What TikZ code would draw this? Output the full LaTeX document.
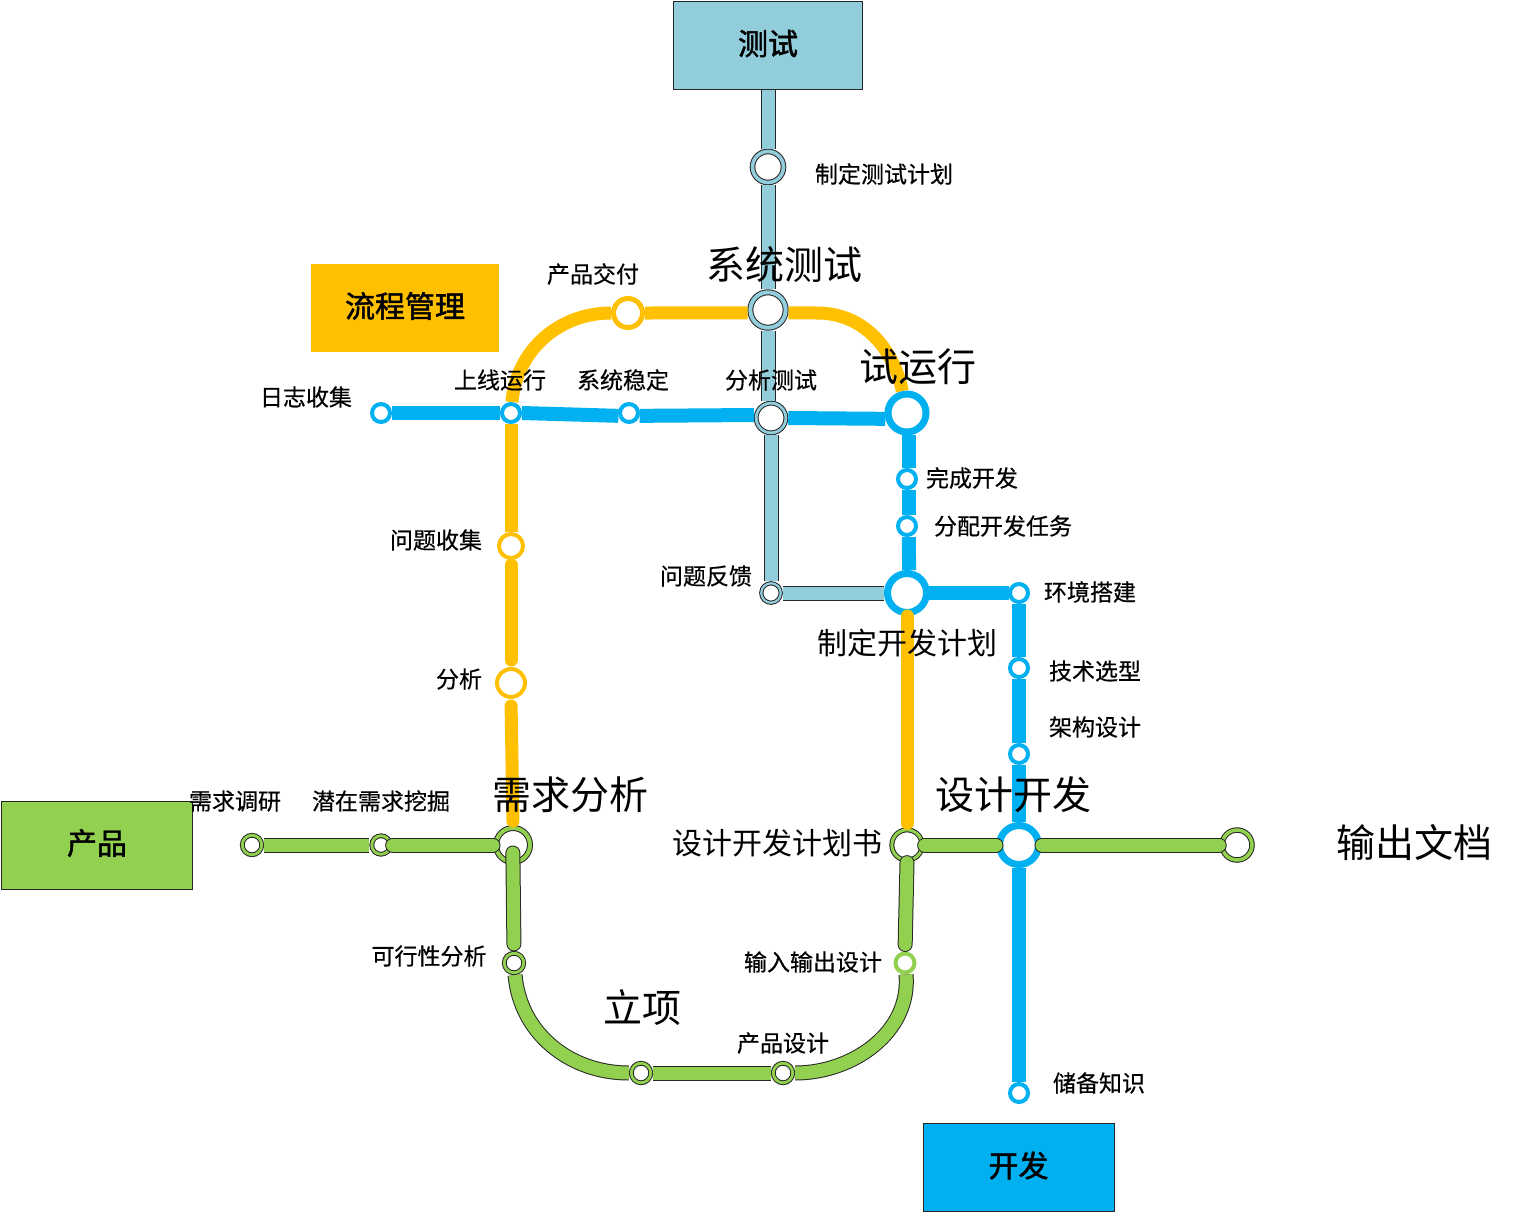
\documentclass[tikz,border=0pt]{standalone}
\usepackage{fontspec}
\setmainfont{Noto Sans CJK SC}
\newfontfamily\boxfont{Noto Sans CJK SC}[FakeBold=1.6]
\newfontfamily\labelfont{Noto Sans CJK SC}[FakeBold=0.5]
\usepackage{tikz}
\usetikzlibrary{positioning}

\definecolor{testblue}{HTML}{92CDDC}
\definecolor{flowyellow}{HTML}{FFC000}
\definecolor{devblue}{HTML}{00B0F0}
\definecolor{prodgreen}{HTML}{92D050}

\tikzset{
  smalltext/.style={font=\labelfont\fontsize{23}{27}\selectfont,inner sep=0pt},
  midtext/.style={font=\fontsize{30}{34}\selectfont,inner sep=0pt},
  bigtext/.style={font=\fontsize{39}{44}\selectfont,inner sep=0pt},
  linebox/.style={font=\boxfont\fontsize{30}{34}\selectfont,minimum width=#1,minimum height=88pt,inner sep=0pt,text height=25pt,text depth=6.2pt},
  plainstop/.style n args={3}{circle,inner sep=0pt,fill=white,draw=#1,minimum size=#2,line width=#3,outer sep=#3/2},
  darkstop/.style n args={3}{circle,inner sep=0pt,fill=white,draw=black!85,line width=1pt,double=#1,double distance=#3-2pt,minimum size=#2,outer sep=#3/2},
  plainrail/.style={draw=#1,line width=14pt},
  yellowrail/.style={draw=flowyellow,line width=13pt},
  darkrail/.style={draw=black!85,line width=1pt,double=#1,double distance=13pt},
  roundend/.style={line cap=round},
}

\begin{document}
\begin{tikzpicture}[x=1pt,y=-1pt]
  \useasboundingbox (0,0) rectangle (1515,1213);

  % line boxes
  \node[linebox=189pt,fill=testblue,draw=black!85,line width=.8pt] (testbox) at (768,45.5) {测试};
  \node[linebox=188pt,fill=flowyellow] (flowbox) at (405,308) {流程管理};
  \node[linebox=191pt,fill=prodgreen,draw=black!85,line width=.8pt] (prodbox) at (97,845) {产品};
  \node[linebox=191pt,fill=devblue,draw=black!85,line width=.8pt] (devbox) at (1018.5,1167.5) {开发};

  % test stops
  \node[darkstop={testblue}{31pt}{5.6pt}] (testplan) at (768,167) {};
  \node[darkstop={testblue}{35.4pt}{6pt}] (systest) at (768,310) {};
  \node[darkstop={testblue}{29.7pt}{4.8pt}] (analysetest) at (771,418) {};
  \node[darkstop={testblue}{19.5pt}{4.2pt}] (feedback) at (771,593) {};

  % flow stops
  \node[plainstop={flowyellow}{29pt}{5pt}] (delivery) at (628,313) {};
  \node[plainstop={flowyellow}{24pt}{4pt}] (collect) at (511,546) {};
  \node[plainstop={flowyellow}{28pt}{4pt}] (analyse) at (511,683) {};

  % dev stops
  \node[plainstop={devblue}{18pt}{4pt}] (logs) at (381,413) {};
  \node[plainstop={devblue}{18pt}{4pt}] (golive) at (511,413) {};
  \node[plainstop={devblue}{18pt}{4pt}] (stable) at (629,413) {};
  \node[plainstop={devblue}{38pt}{7pt}] (trial) at (907,413) {};
  \node[plainstop={devblue}{18pt}{4pt}] (devdone) at (907,479) {};
  \node[plainstop={devblue}{18pt}{4pt}] (devtask) at (907,526) {};
  \node[plainstop={devblue}{39pt}{7pt}] (devplan) at (907,593) {};
  \node[plainstop={devblue}{18pt}{4pt}] (envsetup) at (1019,593) {};
  \node[plainstop={devblue}{18pt}{4pt}] (techsel) at (1019,668) {};
  \node[plainstop={devblue}{18pt}{4pt}] (archdes) at (1019,754) {};
  \node[plainstop={devblue}{39pt}{7pt}] (devhub) at (1019,845) {};
  \node[plainstop={devblue}{18pt}{4pt}] (reserve) at (1019,1093) {};

  % product stops
  \node[darkstop={prodgreen}{19.5pt}{4.8pt}] (survey) at (252,845) {};
  \node[darkstop={prodgreen}{18.5pt}{4.8pt}] (mining) at (381,845) {};
  \node[darkstop={prodgreen}{34pt}{6pt}] (reqhub) at (513,845) {};
  \node[darkstop={prodgreen}{19.5pt}{4.8pt}] (feasible) at (514,963) {};
  \node[darkstop={prodgreen}{19.5pt}{4.8pt}] (approval) at (641,1073) {};
  \node[darkstop={prodgreen}{19.5pt}{4.8pt}] (proddesign) at (783,1073) {};
  \node[plainstop={prodgreen}{19pt}{4pt}] (iodesign) at (905,963) {};
  \node[darkstop={prodgreen}{30.3pt}{5pt}] (planbook) at (907,845) {};
  \node[darkstop={prodgreen}{30pt}{5.5pt}] (outdoc) at (1237,845) {};

  % bend points
  \coordinate (bendright) at (817,313);

  % test line
  \draw[darkrail=testblue] (testbox.south) -- (testplan.north);
  \draw[darkrail=testblue] (testplan.south) -- (systest.north);
  \draw[darkrail=testblue] (systest.south) -- (systest.south |- analysetest.100);
  \draw[darkrail=testblue] (analysetest.south) -- (feedback.north);
  \draw[darkrail=testblue] (feedback.east) -- (devplan.west);

  % flow line
  \draw[yellowrail] (golive.85) to[out=85,in=180] (delivery.west);
  \draw[yellowrail] (delivery.east) -- (systest.188);
  \draw[yellowrail] (systest.-8) -- (bendright) to[out=0,in=102] (trial.102);
  \draw[yellowrail] (golive.south) -- (collect.north);
  \draw[yellowrail,roundend,shorten <=5pt,shorten >=7pt] (collect.south) -- (analyse.north);
  \draw[yellowrail,roundend,shorten <=7pt,shorten >=4pt] (analyse.south) -- (reqhub.north);
  \draw[yellowrail,roundend,shorten >=4pt] (devplan.south) -- (planbook.north);

  % dev line
  \draw[plainrail=devblue] (logs.east) -- (golive.west);
  \draw[plainrail=devblue] (golive.east) -- (stable.195);
  \draw[plainrail=devblue] (stable.-15) -- (analysetest.170);
  \draw[plainrail=devblue] (analysetest.east) -- (trial.195);
  \draw[plainrail=devblue] (trial.-85) -- (trial.-85 |- devdone.north);
  \draw[plainrail=devblue] (trial.-85 |- devdone.south) -- (trial.-85 |- devtask.north);
  \draw[plainrail=devblue] (trial.-85 |- devtask.south) -- (devplan.85);
  \draw[plainrail=devblue,shorten <=-1pt,shorten >=-1pt] (devplan.east) -- (envsetup.west);
  \draw[plainrail=devblue] (envsetup.south) -- (techsel.north);
  \draw[plainrail=devblue] (techsel.south) -- (archdes.north);
  \draw[plainrail=devblue] (archdes.south) -- (devhub.north);
  \draw[plainrail=devblue] (devhub.south) -- (reserve.north);

  % product line
  \draw[darkrail=prodgreen] (survey.east) -- (mining.west);
  \draw[darkrail=prodgreen,roundend] (mining.east) -- (reqhub.west);
  \draw[darkrail=prodgreen,roundend,shorten <=-12pt,shorten >=7pt] (reqhub.south) -- (feasible.north);
  \draw[darkrail=prodgreen] (feasible.-85) to[out=-85,in=180] (approval.west);
  \draw[darkrail=prodgreen] (approval.east) -- (proddesign.west);
  \draw[darkrail=prodgreen] (proddesign.east) to[out=0,in=-85] (iodesign.-85);
  \draw[darkrail=prodgreen,roundend,shorten >=7pt] (planbook.south) -- (iodesign.north);
  \draw[darkrail=prodgreen,roundend] (planbook.east) -- (devhub.west);
  \draw[darkrail=prodgreen,roundend] (devhub.east) -- (outdoc.west);

  % stop labels
  \node[smalltext] (testplanlab) at (884,174) {制定测试计划};
  \node[bigtext] (systestlab) at (784,265) {系统测试};
  \node[smalltext] (deliverylab) at (593,274) {产品交付};
  \node[smalltext] (logslab) at (306,397) {日志收集};
  \node[smalltext] (golivelab) at (500,380) {上线运行};
  \node[smalltext] (stablelab) at (623,380) {系统稳定};
  \node[smalltext] (analysetestlab) at (771,380) {分析测试};
  \node[bigtext] (triallab) at (918,367) {试运行};
  \node[smalltext] (devdonelab) at (972,478) {完成开发};
  \node[smalltext] (devtasklab) at (1003,526) {分配开发任务};
  \node[smalltext] (collectlab) at (436,540) {问题收集};
  \node[smalltext] (feedbacklab) at (706,576) {问题反馈};
  \node[smalltext] (envsetuplab) at (1090,592) {环境搭建};
  \node[midtext] (devplanlab) at (907,643) {制定开发计划};
  \node[smalltext] (techsellab) at (1095,671) {技术选型};
  \node[smalltext] (analyselab) at (459,679) {分析};
  \node[smalltext] (archdeslab) at (1095,727) {架构设计};
  \node[smalltext] (surveylab) at (235,801) {需求调研};
  \node[smalltext] (mininglab) at (381,801) {潜在需求挖掘};
  \node[bigtext] (reqhublab) at (570,795) {需求分析};
  \node[bigtext] (devhublab) at (1013,795) {设计开发};
  \node[midtext] (planbooklab) at (777,843) {设计开发计划书};
  \node[bigtext] (outdoclab) at (1414,843) {输出文档};
  \node[smalltext] (feasiblelab) at (429,956) {可行性分析};
  \node[smalltext] (iodesignlab) at (813,962) {输入输出设计};
  \node[bigtext] (approvallab) at (642,1008) {立项};
  \node[smalltext] (proddesignlab) at (783,1043) {产品设计};
  \node[smalltext] (reservelab) at (1099,1083) {储备知识};

\end{tikzpicture}
\end{document}
